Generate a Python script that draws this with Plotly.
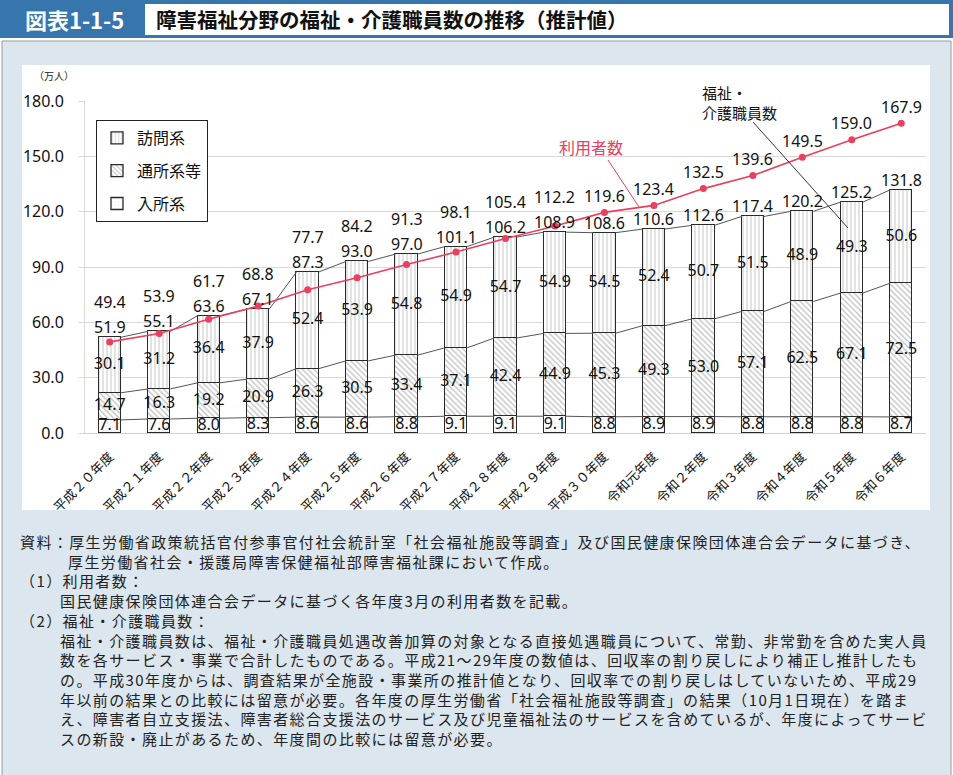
import plotly.graph_objects as go

# ---------------- data ----------------
categories = ["平成２０年度", "平成２１年度", "平成２２年度", "平成２３年度", "平成２４年度",
              "平成２５年度", "平成２６年度", "平成２７年度", "平成２８年度", "平成２９年度",
              "平成３０年度", "令和元年度", "令和２年度", "令和３年度", "令和４年度",
              "令和５年度", "令和６年度"]
nyusho = [7.1, 7.6, 8.0, 8.3, 8.6, 8.6, 8.8, 9.1, 9.1, 9.1, 8.8, 8.9, 8.9, 8.8, 8.8, 8.8, 8.7]
tsusho = [14.7, 16.3, 19.2, 20.9, 26.3, 30.5, 33.4, 37.1, 42.4, 44.9, 45.3, 49.3, 53.0, 57.1, 62.5, 67.1, 72.5]
homon = [30.1, 31.2, 36.4, 37.9, 52.4, 53.9, 54.8, 54.9, 54.7, 54.9, 54.5, 52.4, 50.7, 51.5, 48.9, 49.3, 50.6]
total = [51.9, 55.1, 63.6, 67.1, 87.3, 93.0, 97.0, 101.1, 106.2, 108.9, 108.6, 110.6, 112.6, 117.4, 120.2, 125.2, 131.8]
users = [49.4, 53.9, 61.7, 68.8, 77.7, 84.2, 91.3, 98.1, 105.4, 112.2, 119.6, 123.4, 132.5, 139.6, 149.5, 159.0, 167.9]
y_ticks = [0, 30, 60, 90, 120, 150, 180]

title_tag = "図表1-1-5"
title_text = "障害福祉分野の福祉・介護職員数の推移（推計値）"
notes = [
    (18, "資料：厚生労働省政策統括官付参事官付社会統計室「社会福祉施設等調査」及び国民健康保険団体連合会データに基づき、"),
    (66, "厚生労働省社会・援護局障害保健福祉部障害福祉課において作成。"),
    (18, "（1）利用者数："),
    (58, "国民健康保険団体連合会データに基づく各年度3月の利用者数を記載。"),
    (18, "（2）福祉・介護職員数："),
    (58, "福祉・介護職員数は、福祉・介護職員処遇改善加算の対象となる直接処遇職員について、常勤、非常勤を含めた実人員"),
    (58, "数を各サービス・事業で合計したものである。平成21～29年度の数値は、回収率の割り戻しにより補正し推計したも"),
    (58, "の。平成30年度からは、調査結果が全施設・事業所の推計値となり、回収率での割り戻しはしていないため、平成29"),
    (58, "年以前の結果との比較には留意が必要。各年度の厚生労働省「社会福祉施設等調査」の結果（10月1日現在）を踏ま"),
    (58, "え、障害者自立支援法、障害者総合支援法のサービス及び児童福祉法のサービスを含めているが、年度によってサービ"),
    (58, "スの新設・廃止があるため、年度間の比較には留意が必要。"),
]

# ---------------- layout geometry ----------------
W, H = 953, 775
L, R, T, B = 85, 27, 101, 342
PW, PH = W - L - R, H - T - B
YMAX = 180.0
ppu = PH / YMAX


def px(x):
    return (x - L) / PW


def py(y):
    return (H - B - y) / PH


JP = "Noto Sans CJK JP"
NUM = "Noto Sans, Noto Sans CJK JP"
RED = "#e8405e"

idx = list(range(len(categories)))
cum1 = nyusho
cum2 = [a + b for a, b in zip(nyusho, tsusho)]
cum3 = [a + b for a, b in zip(cum2, homon)]

fig = go.Figure()
bar_line = dict(color="#2a2a2a", width=1.3)
BW = 0.45

fig.add_bar(x=idx, y=nyusho, name="入所系", width=BW, legendrank=3, legendgroup="c", hoverinfo="skip",
            marker=dict(color="white", line=bar_line,
                        pattern=dict(shape=".", fgcolor="#c0c0c0", bgcolor="white", size=4, solidity=0.12)))
fig.add_bar(x=idx, y=tsusho, name="通所系等", width=BW, legendrank=2, legendgroup="b", hoverinfo="skip",
            marker=dict(color="white", line=bar_line,
                        pattern=dict(shape="\\", fgcolor="#808080", bgcolor="white", size=4, solidity=0.32)))
fig.add_bar(x=idx, y=homon, name="訪問系", width=BW, legendrank=1, legendgroup="a", hoverinfo="skip",
            marker=dict(color="white", line=bar_line,
                        pattern=dict(shape="|", fgcolor="#a0a0a0", bgcolor="white", size=4, solidity=0.3)))

# series lines between bars
hw = BW / 2
for cum in (cum1, cum2, cum3):
    xs, ys = [], []
    for i in range(len(idx) - 1):
        xs += [i + hw, i + 1 - hw, None]
        ys += [cum[i], cum[i + 1], None]
    fig.add_scatter(x=xs, y=ys, mode="lines", line=dict(color="#555555", width=1),
                    showlegend=False, hoverinfo="skip")

# users line
fig.add_scatter(x=idx, y=users, mode="lines+markers", name="利用者数",
                line=dict(color=RED, width=1.6), marker=dict(color=RED, size=7),
                showlegend=False, hoverinfo="skip")

# segment labels
seg_mid = [
    (nyusho, [v / 2 for v in nyusho]),
    (tsusho, [b + v / 2 for b, v in zip(cum1, tsusho)]),
    (homon, [b + v / 2 for b, v in zip(cum2, homon)]),
]
for vals, ys in seg_mid:
    fig.add_scatter(x=idx, y=ys, mode="text", text=[f"{v:.1f}" for v in vals],
                    textposition="middle center", textfont=dict(size=16, color="#111111", family=NUM),
                    showlegend=False, hoverinfo="skip")

annotations = []
# total labels and user labels
for i in idx:
    annotations.append(dict(x=i, y=total[i], xref="x", yref="y", text=f"{total[i]:.1f}",
                            xanchor="center", yanchor="middle",
                            showarrow=False, yshift=10, font=dict(size=16, color="#111111", family=NUM)))
    shift = max(16.5, (total[i] - users[i]) * ppu + 35)
    annotations.append(dict(x=i, y=users[i], xref="x", yref="y", text=f"{users[i]:.1f}",
                            xanchor="center", yanchor="middle",
                            showarrow=False, yshift=shift, font=dict(size=16, color="#111111", family=NUM)))


def pa(x, y, text, size, color="#111111", xanchor="center", yanchor="middle", **kw):
    d = dict(x=px(x), y=py(y), xref="paper", yref="paper", text=text, showarrow=False,
             xanchor=xanchor, yanchor=yanchor, font=dict(size=size, color=color, family=JP))
    d.update(kw)
    return d


# header
annotations.append(pa(74, 19, f"<b>{title_tag}</b>", 22, color="white"))
annotations.append(pa(154, 19, f"<b>{title_text}</b>", 20.5, xanchor="left"))
# unit
annotations.append(pa(54, 76, "（万人）", 10, color="#222222"))
# callouts
annotations.append(pa(591, 147, "利用者数", 16, color=RED))
annotations.append(pa(700, 102, "福祉・<br>介護職員数", 15, xanchor="left", align="left"))

# notes (slightly condensed look: smaller glyphs, extra letter spacing)
for li, (xpos, txt) in enumerate(notes):
    styled = f'<span style="letter-spacing:1.4px">{txt}</span>'
    annotations.append(pa(xpos, 541 + li * 19.7, styled, 15, color="#222222", xanchor="left", height=18))

shapes = [
    dict(type="rect", xref="paper", yref="paper", x0=px(0), x1=px(953), y0=py(0), y1=py(38),
         fillcolor="#3775ad", line=dict(width=0), layer="below"),
    dict(type="rect", xref="paper", yref="paper", x0=px(145), x1=px(949), y0=py(4), y1=py(35),
         fillcolor="white", line=dict(width=0), layer="below"),
    dict(type="rect", xref="paper", yref="paper", x0=px(2), x1=px(951), y0=py(41), y1=py(780),
         fillcolor="#dce6ee", line=dict(color="#9a9a9a", width=1), layer="below"),
    dict(type="rect", xref="paper", yref="paper", x0=px(22), x1=px(930), y0=py(65), y1=py(510),
         fillcolor="white", line=dict(width=0), layer="below"),
    dict(type="line", xref="paper", yref="paper", x0=px(608), x1=px(639), y0=py(160), y1=py(207),
         line=dict(color=RED, width=1)),
    dict(type="line", xref="paper", yref="paper", x0=px(753), x1=px(848), y0=py(122), y1=py(228),
         line=dict(color="#333333", width=1)),
]

fig.update_layout(
    width=W, height=H,
    margin=dict(l=L, r=R, t=T, b=B, pad=0),
    paper_bgcolor="white", plot_bgcolor="rgba(0,0,0,0)",
    barmode="stack", bargap=0,
    font=dict(family=JP, color="#111111"),
    showlegend=True,
    legend=dict(x=px(96), y=py(120), xanchor="left", yanchor="top",
                bordercolor="#222222", borderwidth=1, bgcolor="white",
                font=dict(size=16, family=JP, color="#111111"),
                traceorder="grouped", tracegroupgap=9, itemwidth=30),
    xaxis=dict(range=[-0.5, len(idx) - 0.5], tickmode="array", tickvals=idx, ticktext=categories,
               tickangle=-45, showgrid=False, showline=True, linecolor="#d0d0d0", linewidth=1,
               ticks="", zeroline=False, ticklabelstandoff=10,
               tickfont=dict(size=13, color="#111111", family=JP)),
    yaxis=dict(range=[0, YMAX], tickmode="array", tickvals=y_ticks,
               ticktext=[f"{v:.1f}" for v in y_ticks], showgrid=True, gridcolor="#d9d9d9",
               showline=True, linecolor="#d9d9d9", ticks="outside", ticklen=5, tickcolor="#d9d9d9",
               zeroline=False, ticklabelstandoff=12, tickfont=dict(size=16, color="#111111", family=NUM)),
    annotations=annotations,
    shapes=shapes,
)

fig.write_html("out.html")
